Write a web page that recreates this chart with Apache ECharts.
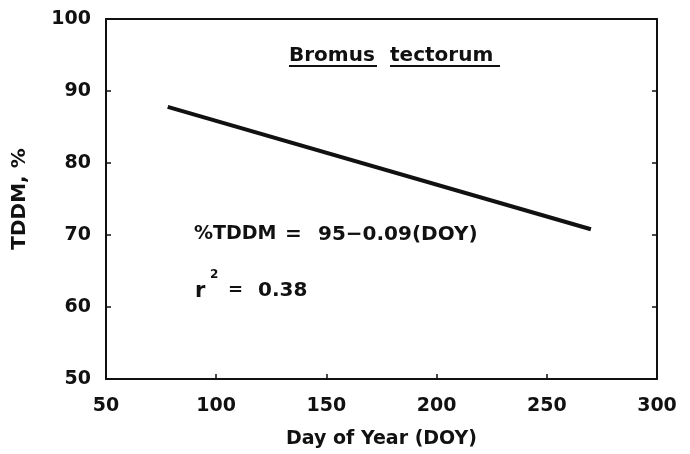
<!DOCTYPE html>
<html>
<head>
<meta charset="utf-8">
<script src="https://cdn.jsdelivr.net/npm/echarts@6/dist/echarts.min.js"></script>
<style>
  html, body { margin: 0; padding: 0; background: #fff; }
  #chart { width: 690px; height: 454px; }
</style>
</head>
<body>
<div id="chart"></div>
<script>
// fitted line (end points)
var doy = [78, 270];
var tddm = [87.8, 70.8];
var xTicks = [50, 100, 150, 200, 250, 300];
var yTicks = [50, 60, 70, 80, 90, 100];

var font = '"DejaVu Sans", sans-serif';
var ink = '#111';

var chart = echarts.init(document.getElementById('chart'));

var axisCommon = {
    type: 'value',
    axisLine: { show: true, lineStyle: { color: ink, width: 2 } },
    axisTick: { show: true, inside: true, length: 5, lineStyle: { color: ink, width: 1.5 } },
    splitLine: { show: false }
};

// plain text helper for the annotations inside the plot
function txt(x, y, s, size) {
    return {
        type: 'text', left: x, top: y,
        style: { text: s, fontFamily: font, fontSize: size, fontWeight: 'bold', fill: ink }
    };
}

var option = {
    backgroundColor: '#fff',
    animation: false,
    grid: { left: 106, right: 33, top: 19, bottom: 73 },
    xAxis: [
        Object.assign({}, axisCommon, {
            min: xTicks[0], max: xTicks[xTicks.length - 1], interval: 50,
            position: 'bottom',
            name: 'Day of Year (DOY)',
            nameLocation: 'middle',
            nameGap: 51,
            nameTextStyle: { fontFamily: font, fontSize: 19, fontWeight: 'bold', color: ink },
            axisLabel: { fontFamily: font, fontSize: 19, fontWeight: 'bold', color: ink, margin: 18 }
        }),
        Object.assign({}, axisCommon, {
            min: xTicks[0], max: xTicks[xTicks.length - 1], interval: 50,
            position: 'top',
            axisTick: { show: false },
            axisLabel: { show: false }
        })
    ],
    yAxis: [
        Object.assign({}, axisCommon, {
            min: yTicks[0], max: yTicks[yTicks.length - 1], interval: 10,
            position: 'left',
            name: 'TDDM, %',
            nameLocation: 'middle',
            nameGap: 76,
            nameTextStyle: { fontFamily: font, fontSize: 20, fontWeight: 'bold', color: ink },
            axisLabel: { fontFamily: font, fontSize: 19, fontWeight: 'bold', color: ink, margin: 15 }
        }),
        Object.assign({}, axisCommon, {
            min: yTicks[0], max: yTicks[yTicks.length - 1], interval: 10,
            position: 'right',
            axisLabel: { show: false }
        })
    ],
    series: [{
        type: 'line',
        data: doy.map(function (d, i) { return [d, tddm[i]]; }),
        showSymbol: false,
        lineStyle: { color: ink, width: 4 }
    }],
    graphic: [
        txt(289, 46, 'Bromus', 20),
        txt(390, 46, 'tectorum', 20),
        {
            type: 'line', shape: { x1: 289, y1: 66, x2: 377, y2: 66 },
            style: { stroke: ink, lineWidth: 2 }
        },
        {
            type: 'line', shape: { x1: 390, y1: 66, x2: 500, y2: 66 },
            style: { stroke: ink, lineWidth: 2 }
        },
        txt(194, 225, '%TDDM', 19),
        txt(285, 225, '=', 20),
        txt(318, 225, '95\u22120.09(DOY)', 20),
        txt(195, 281, 'r', 21),
        txt(210, 269, '2', 12),
        txt(228, 281, '=', 18),
        txt(258, 281, '0.38', 20)
    ]
};

chart.setOption(option);
</script>
</body>
</html>
